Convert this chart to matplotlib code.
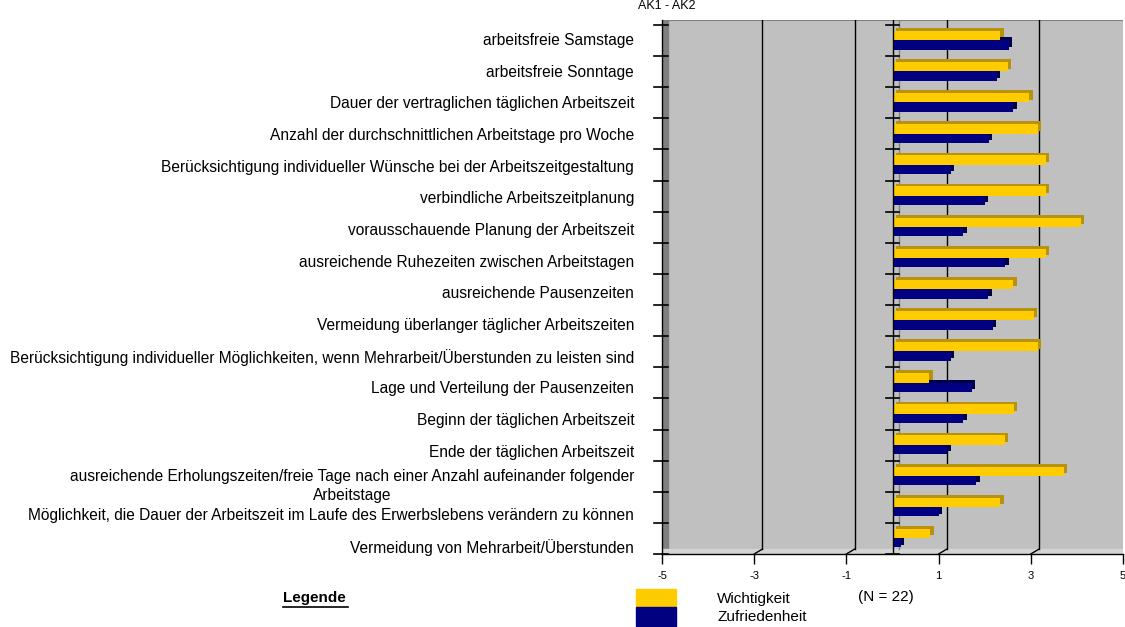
import matplotlib.pyplot as plt
from matplotlib.patches import Rectangle
from matplotlib.lines import Line2D

plt.rcParams['font.family'] = ['Liberation Sans', 'DejaVu Sans']

# categories, top to bottom
labels = [
    "arbeitsfreie Samstage",
    "arbeitsfreie Sonntage",
    "Dauer der vertraglichen täglichen Arbeitszeit",
    "Anzahl der durchschnittlichen Arbeitstage pro Woche",
    "Berücksichtigung individueller Wünsche bei der Arbeitszeitgestaltung",
    "verbindliche Arbeitszeitplanung",
    "vorausschauende Planung der Arbeitszeit",
    "ausreichende Ruhezeiten zwischen Arbeitstagen",
    "ausreichende Pausenzeiten",
    "Vermeidung überlanger täglicher Arbeitszeiten",
    "Berücksichtigung individueller Möglichkeiten, wenn Mehrarbeit/Überstunden zu leisten sind",
    "Lage und Verteilung der Pausenzeiten",
    "Beginn der täglichen Arbeitszeit",
    "Ende der täglichen Arbeitszeit",
    "ausreichende Erholungszeiten/freie Tage nach einer Anzahl aufeinander folgender\nArbeitstage",
    "Möglichkeit, die Dauer der Arbeitszeit im Laufe des Erwerbslebens verändern zu können",
    "Vermeidung von Mehrarbeit/Überstunden",
]
wichtigkeit = [2.34, 2.51, 2.97, 3.16, 3.33, 3.33, 4.08, 3.33, 2.62, 3.06,
               3.16, 0.80, 2.63, 2.43, 3.71, 2.34, 0.82]
zufriedenheit = [2.52, 2.26, 2.62, 2.09, 1.26, 2.00, 1.54, 2.45, 2.08, 2.17,
                 1.26, 1.73, 1.54, 1.19, 1.82, 1.00, 0.19]
xticks = [-5, -3, -1, 1, 3, 5]

yellow, yellow_dk = "#FFCC00", "#B8920A"
navy, navy_dk = "#000080", "#00004A"

fig = plt.figure(figsize=(11.25, 6.27), dpi=100)
ax = fig.add_axes([662 / 1125, 73 / 627, 461 / 1125, 534 / 627])
ax.set_facecolor("#C0C0C0")
ax.set_xlim(-5, 5)
n = len(labels)
ax.set_ylim(n - 0.5, -0.66)

# walls
ax.axvspan(-5, -4.88, color="#808080", zorder=1)
ax.axhspan(n - 0.5, n - 0.66, color="#D4D4D4", zorder=1)
ax.axhline(-0.655, color="#808080", lw=1.5, zorder=1)

# gridlines on back wall
for g in [-3, -1, 1, 3]:
    ax.plot([g + 0.18, g + 0.18], [-0.66, n - 0.66], color="black", lw=1, zorder=2)
    ax.plot([g, g + 0.18], [n - 0.5, n - 0.66], color="black", lw=1, zorder=2)
ax.plot([0.15, 0.15], [-0.66, n - 0.66], color="#808080", lw=1, zorder=2)

ys = list(range(n))
y_w = [y - 0.16 for y in ys]
y_z = [y + 0.14 for y in ys]
h = 0.3
dx, dy = 0.07, -0.09

ax.barh([y + dy for y in y_w], wichtigkeit, height=h, left=dx, color=yellow_dk, zorder=3)
ax.barh(y_w, wichtigkeit, height=h, left=0, color=yellow, zorder=4)
ax.barh([y + dy for y in y_z], zufriedenheit, height=h, left=dx, color=navy_dk, zorder=3)
ax.barh(y_z, zufriedenheit, height=h, left=0, color=navy, zorder=4)

# zero axis with category ticks
ax.axvline(0, color="black", lw=1, zorder=5)
for b in [k - 0.5 for k in range(n + 1)]:
    ax.plot([-0.15, 0.15], [b, b], color="black", lw=1.2, zorder=5, clip_on=False)
    ax.plot([-5.17, -4.88], [b, b], color="black", lw=1.2, zorder=5, clip_on=False)

ax.set_xticks(xticks)
ax.set_xticklabels([str(t) for t in xticks], fontsize=8)
# labels sit slightly lower than the bars, drifting down the list
ax.set_yticks([k * 1.0174 - 0.048 for k in ys])
ax.set_yticklabels(labels, fontsize=11.2, multialignment="center", linespacing=1.35)
ax.tick_params(axis="y", length=0, pad=20)
ax.tick_params(axis="x", length=7, width=1, pad=5)
for s in ["top", "right"]:
    ax.spines[s].set_visible(False)
ax.spines["left"].set_linewidth(1)
ax.spines["bottom"].set_linewidth(1)

fig.text(638 / 1125, 1.0, "AK1 - AK2", fontsize=9, va="top", ha="left")

# legend
fig.text(283 / 1125, 1 - 598 / 627, "Legende", fontsize=11, fontweight="bold", va="center", ha="left")
fig.add_artist(Line2D([283 / 1125, 348 / 1125], [1 - 607 / 627, 1 - 607 / 627],
                      color="black", lw=1.2, transform=fig.transFigure))
fig.add_artist(Rectangle((636 / 1125, 1 - 607 / 627), 40 / 1125, 18 / 627,
                         color=yellow, transform=fig.transFigure))
fig.add_artist(Rectangle((636 / 1125, 1 - 626 / 627), 40 / 1125, 19 / 627,
                         color=navy, transform=fig.transFigure))
fig.text(717 / 1125, 1 - 599 / 627, "Wichtigkeit", fontsize=11, va="center", ha="left")
fig.text(717 / 1125, 1 - 617 / 627, "Zufriedenheit", fontsize=11, va="center", ha="left")
fig.text(858 / 1125, 1 - 597 / 627, "(N = 22)", fontsize=11, va="center", ha="left")

fig.savefig("out.png", dpi=100)
